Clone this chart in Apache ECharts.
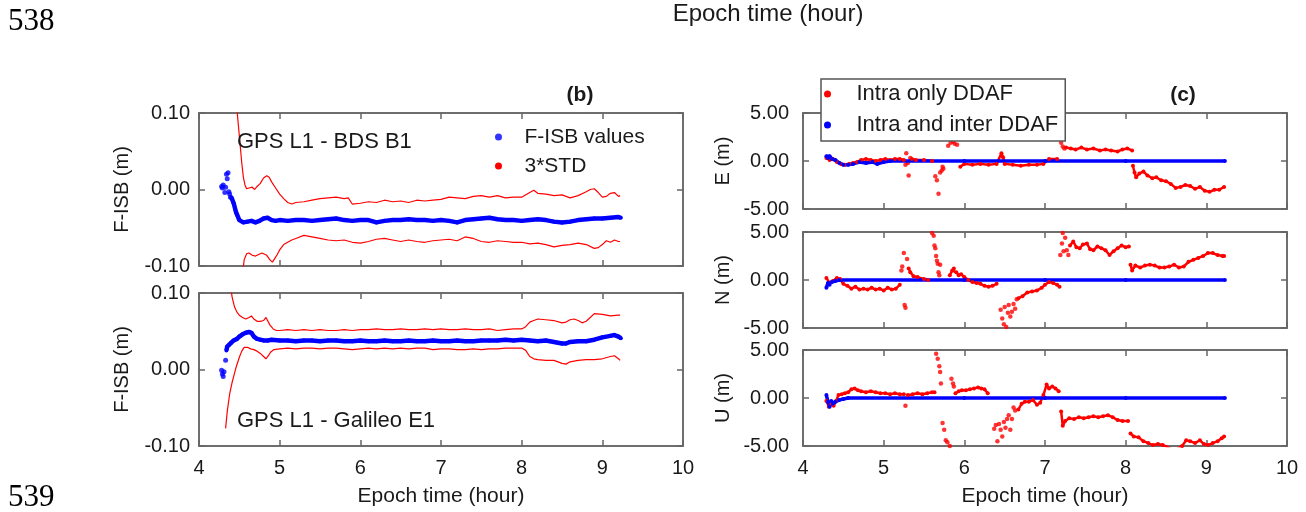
<!DOCTYPE html>
<html>
<head>
<meta charset="utf-8">
<script src="https://cdn.jsdelivr.net/npm/echarts@6/dist/echarts.min.js"></script>
<style>
html,body{margin:0;padding:0;background:#fff;}
#chart{width:1306px;height:512px;}
</style>
</head>
<body>
<div id="chart"></div>
<script>
// ---------- axis ticks ----------
const xTicks = [4, 5, 6, 7, 8, 9, 10];
const isbTicks = [-0.1, 0.0, 0.1];
const posTicks = [-5, 0, 5];

// ---------- (b) GPS L1 - BDS B1 ----------
const bdsIsbStart = [[4.28,0.004],[4.29,0.002],[4.30,0.006],[4.32,-0.004],[4.33,0.003],[4.34,0.020],[4.35,0.014],[4.36,0.022],[4.37,-0.003],[4.38,-0.006],[4.39,-0.010]];
const bdsIsb = [[4.40,-0.010],[4.43,-0.018],[4.46,-0.030],[4.50,-0.040],[4.55,-0.043],[4.60,-0.042],[4.65,-0.041],[4.70,-0.043],[4.75,-0.041],[4.80,-0.038],[4.85,-0.037],[4.90,-0.040],[4.95,-0.041],[5.0,-0.040],[5.1,-0.041],[5.2,-0.040],[5.3,-0.040],[5.4,-0.041],[5.5,-0.040],[5.6,-0.039],[5.7,-0.038],[5.8,-0.040],[5.9,-0.041],[6.0,-0.040],[6.1,-0.040],[6.2,-0.043],[6.3,-0.041],[6.4,-0.040],[6.5,-0.040],[6.6,-0.039],[6.7,-0.040],[6.8,-0.040],[6.9,-0.041],[7.0,-0.040],[7.1,-0.041],[7.2,-0.043],[7.3,-0.040],[7.4,-0.039],[7.5,-0.038],[7.6,-0.037],[7.7,-0.039],[7.8,-0.040],[7.9,-0.040],[8.0,-0.041],[8.1,-0.040],[8.2,-0.039],[8.3,-0.040],[8.4,-0.042],[8.5,-0.043],[8.6,-0.042],[8.7,-0.040],[8.8,-0.039],[8.9,-0.038],[9.0,-0.038],[9.1,-0.037],[9.2,-0.036],[9.23,-0.037]];
const bdsUpper = [[4.47,0.105],[4.50,0.070],[4.53,0.035],[4.55,0.016],[4.57,0.006],[4.59,0.001],[4.62,0.002],[4.66,0.003],[4.69,0.000],[4.72,0.004],[4.76,0.008],[4.80,0.015],[4.84,0.018],[4.87,0.016],[4.90,0.010],[4.95,0.002],[5.0,-0.006],[5.05,-0.012],[5.1,-0.017],[5.15,-0.019],[5.2,-0.017],[5.3,-0.016],[5.4,-0.014],[5.5,-0.012],[5.6,-0.011],[5.7,-0.010],[5.8,-0.012],[5.85,-0.011],[5.9,-0.019],[6.0,-0.018],[6.1,-0.016],[6.2,-0.017],[6.3,-0.014],[6.4,-0.016],[6.5,-0.015],[6.6,-0.017],[6.7,-0.014],[6.8,-0.015],[6.9,-0.014],[7.0,-0.013],[7.1,-0.010],[7.2,-0.011],[7.3,-0.012],[7.4,-0.009],[7.5,-0.008],[7.6,-0.010],[7.7,-0.008],[7.8,-0.011],[7.9,-0.010],[8.0,-0.010],[8.1,-0.004],[8.15,-0.001],[8.2,-0.005],[8.3,-0.006],[8.4,-0.008],[8.5,-0.007],[8.6,-0.011],[8.7,-0.008],[8.8,-0.003],[8.85,0.000],[8.9,0.001],[8.95,-0.004],[9.0,-0.010],[9.05,-0.009],[9.1,-0.005],[9.15,-0.004],[9.2,-0.009],[9.22,-0.008]];
const bdsLower = [[4.54,-0.110],[4.56,-0.092],[4.59,-0.084],[4.62,-0.083],[4.66,-0.086],[4.70,-0.087],[4.74,-0.085],[4.78,-0.083],[4.80,-0.081],[4.84,-0.086],[4.88,-0.092],[4.91,-0.095],[4.94,-0.090],[4.97,-0.085],[5.0,-0.079],[5.05,-0.072],[5.1,-0.069],[5.15,-0.066],[5.2,-0.064],[5.3,-0.060],[5.4,-0.062],[5.5,-0.064],[5.6,-0.066],[5.7,-0.067],[5.8,-0.066],[5.9,-0.069],[6.0,-0.070],[6.1,-0.068],[6.2,-0.065],[6.3,-0.064],[6.4,-0.066],[6.5,-0.068],[6.6,-0.066],[6.7,-0.068],[6.8,-0.069],[6.9,-0.067],[7.0,-0.066],[7.1,-0.065],[7.2,-0.067],[7.3,-0.062],[7.4,-0.064],[7.5,-0.068],[7.6,-0.069],[7.7,-0.067],[7.8,-0.068],[7.9,-0.069],[8.0,-0.069],[8.1,-0.071],[8.2,-0.070],[8.3,-0.072],[8.4,-0.075],[8.5,-0.073],[8.6,-0.072],[8.7,-0.070],[8.8,-0.072],[8.9,-0.077],[8.95,-0.076],[9.0,-0.072],[9.05,-0.067],[9.1,-0.069],[9.15,-0.066],[9.2,-0.068],[9.22,-0.068]];

// ---------- (b) GPS L1 - Galileo E1 ----------
const galIsbStart = [[4.28,-0.001],[4.29,-0.006],[4.30,-0.009],[4.31,-0.003],[4.33,0.012]];
const galIsb = [[4.34,0.025],[4.35,0.030],[4.37,0.032],[4.40,0.035],[4.43,0.038],[4.47,0.040],[4.50,0.043],[4.54,0.046],[4.58,0.048],[4.62,0.049],[4.65,0.048],[4.68,0.043],[4.72,0.040],[4.76,0.039],[4.8,0.038],[4.85,0.038],[4.9,0.039],[5.0,0.038],[5.1,0.038],[5.2,0.037],[5.3,0.038],[5.4,0.038],[5.5,0.037],[5.6,0.038],[5.7,0.038],[5.8,0.037],[5.9,0.037],[6.0,0.038],[6.1,0.037],[6.2,0.037],[6.3,0.038],[6.4,0.037],[6.5,0.037],[6.6,0.038],[6.7,0.037],[6.8,0.037],[6.9,0.038],[7.0,0.037],[7.1,0.037],[7.2,0.038],[7.3,0.037],[7.4,0.037],[7.5,0.038],[7.6,0.038],[7.7,0.038],[7.8,0.039],[7.9,0.038],[8.0,0.039],[8.1,0.038],[8.2,0.037],[8.3,0.038],[8.4,0.036],[8.5,0.034],[8.55,0.034],[8.6,0.036],[8.7,0.037],[8.8,0.037],[8.9,0.039],[9.0,0.042],[9.1,0.044],[9.15,0.045],[9.2,0.043],[9.23,0.041]];
const galUpper = [[4.39,0.110],[4.41,0.095],[4.44,0.082],[4.47,0.075],[4.50,0.071],[4.54,0.068],[4.58,0.066],[4.62,0.068],[4.65,0.070],[4.68,0.066],[4.72,0.063],[4.76,0.063],[4.80,0.064],[4.83,0.068],[4.85,0.066],[4.88,0.058],[4.92,0.053],[4.96,0.051],[5.0,0.051],[5.1,0.052],[5.2,0.051],[5.3,0.052],[5.4,0.051],[5.5,0.052],[5.6,0.051],[5.7,0.051],[5.8,0.052],[5.9,0.051],[6.0,0.052],[6.1,0.052],[6.2,0.053],[6.3,0.052],[6.4,0.052],[6.5,0.053],[6.6,0.052],[6.7,0.052],[6.8,0.053],[6.9,0.052],[7.0,0.053],[7.1,0.052],[7.2,0.052],[7.3,0.053],[7.4,0.052],[7.5,0.052],[7.6,0.053],[7.7,0.051],[7.8,0.052],[7.9,0.053],[8.0,0.053],[8.05,0.056],[8.1,0.062],[8.15,0.064],[8.2,0.066],[8.3,0.065],[8.4,0.064],[8.5,0.061],[8.55,0.062],[8.6,0.065],[8.65,0.066],[8.7,0.064],[8.75,0.061],[8.8,0.063],[8.85,0.068],[8.9,0.073],[9.0,0.072],[9.1,0.070],[9.2,0.071],[9.22,0.071]];
const galLower = [[4.33,-0.077],[4.35,-0.055],[4.38,-0.032],[4.41,-0.017],[4.44,-0.005],[4.46,0.003],[4.50,0.016],[4.53,0.024],[4.56,0.029],[4.60,0.029],[4.64,0.027],[4.68,0.026],[4.72,0.024],[4.76,0.021],[4.80,0.017],[4.83,0.014],[4.86,0.018],[4.89,0.023],[4.93,0.026],[5.0,0.027],[5.1,0.028],[5.2,0.027],[5.3,0.028],[5.4,0.028],[5.5,0.027],[5.6,0.028],[5.7,0.028],[5.8,0.027],[5.9,0.026],[6.0,0.027],[6.1,0.028],[6.2,0.027],[6.3,0.028],[6.4,0.027],[6.5,0.028],[6.6,0.027],[6.7,0.028],[6.8,0.028],[6.9,0.026],[7.0,0.027],[7.1,0.027],[7.2,0.026],[7.3,0.026],[7.4,0.027],[7.5,0.026],[7.6,0.027],[7.7,0.027],[7.8,0.028],[7.9,0.028],[8.0,0.028],[8.05,0.025],[8.1,0.017],[8.15,0.014],[8.2,0.013],[8.3,0.012],[8.4,0.012],[8.45,0.010],[8.5,0.008],[8.55,0.007],[8.6,0.010],[8.7,0.012],[8.8,0.013],[8.9,0.013],[9.0,0.014],[9.1,0.017],[9.15,0.018],[9.2,0.014],[9.22,0.012]];

// ---------- (c) E component (null = gap) ----------
const eIntraTrack = [[4.29,0.3],[4.33,0.1],[4.37,0.2],[4.42,-0.1],[4.47,-0.3],[4.52,-0.4],[4.57,-0.3],[4.62,-0.2],[4.67,-0.1],[4.72,0.1],[4.78,0.2],[4.84,0.1],[4.90,0.0],[4.96,0.1],[5.02,0.2],[5.08,0.1],[5.14,0.2],[5.20,0.2],[5.25,0.1],null,[5.35,0.2],[5.40,0.1],[5.50,0.1],[5.60,0.0],null,[5.95,-0.6],[6.0,-0.3],[6.1,-0.4],[6.2,-0.3],[6.3,-0.4],[6.4,-0.3],[6.46,0.8],[6.48,0.4],[6.5,-0.3],[6.6,-0.4],[6.7,-0.5],[6.8,-0.4],[6.9,-0.4],[6.98,-0.3],[7.05,0.2],[7.15,0.2],null,[7.26,1.4],[7.32,1.3],[7.38,1.2],[7.45,1.4],[7.52,1.2],[7.6,1.3],[7.68,1.1],[7.75,1.2],[7.82,1.1],[7.9,1.0],[7.96,1.2],[8.02,1.3],[8.08,1.1],null,[8.09,-0.5],[8.11,-1.2],[8.13,-1.7],[8.17,-1.3],[8.22,-1.1],[8.27,-1.5],[8.33,-1.8],[8.38,-1.7],[8.44,-2.0],[8.5,-2.1],[8.56,-2.4],[8.62,-2.8],[8.68,-2.7],[8.74,-2.5],[8.80,-2.6],[8.86,-2.9],[8.92,-2.7],[8.98,-3.1],[9.04,-3.2],[9.10,-3.0],[9.16,-3.0],[9.22,-2.7]];
const eIntraJumps = [[5.28,0.8],[5.27,-0.4],[5.30,-0.2],[5.31,-1.5],[5.33,0.3],[5.64,-1.6],[5.66,-2.0],[5.68,-3.4],[5.70,-1.2],[5.72,-1.0],[5.73,-0.6],[5.74,-0.8],[5.80,1.6],[5.83,1.9],[5.86,2.0],[5.88,1.8],[5.91,1.7],[7.20,1.9],[7.22,1.5],[7.24,1.3]];
const eInter = [[4.29,0.5],[4.31,0.3],[4.33,0.5],[4.36,0.2],[4.40,0.1],[4.45,-0.2],[4.50,-0.4],[4.56,-0.4],[4.62,-0.3],[4.70,-0.1],[4.78,-0.2],[4.86,-0.1],[4.92,-0.3],[5.0,-0.1],[5.08,0.0],[6.0,0.0],[7.0,0.0],[8.0,0.0],[9.23,0.0]];

// ---------- (c) N component ----------
const nIntraTrack = [[4.29,0.2],[4.33,-0.3],[4.37,-0.1],[4.42,0.2],[4.46,0.1],[4.5,-0.4],[4.55,-0.6],[4.6,-0.9],[4.65,-0.7],[4.7,-1.0],[4.75,-0.9],[4.8,-1.0],[4.85,-0.8],[4.9,-1.0],[4.95,-0.9],[5.0,-1.1],[5.05,-0.8],[5.1,-1.0],[5.15,-0.9],[5.2,-0.5],null,[5.31,1.2],[5.33,0.8],[5.37,0.4],[5.42,0.3],[5.5,0.1],[5.55,0.0],null,[5.82,0.5],[5.85,1.0],[5.87,1.2],[5.9,0.8],[5.93,0.5],[5.96,0.6],[6.0,0.3],[6.05,0.0],[6.1,-0.2],[6.15,-0.3],[6.2,-0.4],[6.25,-0.6],[6.3,-0.7],[6.35,-0.6],[6.4,-0.4],null,[6.67,-1.9],[6.72,-1.7],[6.78,-1.3],[6.84,-1.2],[6.9,-1.1],[6.96,-0.8],[7.0,-0.5],[7.05,-0.2],[7.1,-0.3],[7.15,-0.5],[7.18,-0.7],null,[7.31,3.6],[7.35,4.0],[7.39,3.4],[7.43,3.3],[7.47,3.7],[7.52,3.8],[7.56,3.2],[7.6,3.1],[7.65,3.5],[7.7,3.3],[7.75,3.1],[7.8,2.6],[7.85,3.0],[7.9,3.3],[7.95,3.6],[8.0,3.4],[8.04,3.5],null,[8.06,1.6],[8.08,1.0],[8.12,1.5],[8.18,1.3],[8.24,1.5],[8.3,1.6],[8.36,1.5],[8.42,1.3],[8.48,1.3],[8.54,1.4],[8.6,1.6],[8.66,1.3],[8.72,1.4],[8.78,1.9],[8.84,2.1],[8.9,2.3],[8.96,2.5],[9.02,2.8],[9.08,2.8],[9.14,2.6],[9.2,2.5],[9.22,2.5]];
const nIntraJumps = [[5.22,1.0],[5.23,1.4],[5.25,2.8],[5.26,-2.6],[5.27,-2.9],[5.29,2.2],[5.60,4.9],[5.62,4.6],[5.63,3.6],[5.64,3.3],[5.65,2.5],[5.66,2.0],[5.67,1.7],[5.68,0.8],[5.69,0.5],[5.70,1.6],[6.45,-3.1],[6.47,-4.0],[6.49,-4.6],[6.50,-2.8],[6.52,-4.9],[6.54,-3.4],[6.55,-2.6],[6.57,-3.8],[6.59,-3.3],[6.61,-2.5],[6.63,-3.0],[6.65,-2.0],[7.19,2.6],[7.21,3.8],[7.22,4.9],[7.23,3.0],[7.25,4.4],[7.27,3.1],[7.29,2.6]];
const nInter = [[4.29,-0.8],[4.31,-0.3],[4.33,-0.5],[4.36,-0.2],[4.40,-0.1],[4.45,0.0],[6.0,0.0],[7.0,0.0],[8.0,0.0],[9.23,0.0]];

// ---------- (c) U component ----------
const uIntraTrack = [[4.29,-0.3],[4.32,-0.9],[4.35,-0.6],[4.38,-0.8],[4.41,-0.3],[4.44,0.3],[4.48,0.4],[4.52,0.5],[4.56,0.6],[4.6,0.9],[4.64,1.0],[4.68,0.8],[4.72,0.7],[4.78,0.6],[4.84,0.7],[4.9,0.6],[4.96,0.5],[5.02,0.5],[5.08,0.4],[5.14,0.5],[5.2,0.4],[5.25,0.4],null,[5.3,0.3],[5.36,0.4],[5.42,0.5],[5.48,0.4],[5.54,0.5],[5.6,0.6],[5.63,0.6],null,[5.89,0.5],[5.93,0.7],[5.97,0.8],[6.02,0.8],[6.07,0.9],[6.12,1.0],[6.17,1.1],[6.21,1.0],[6.25,0.9],[6.29,0.5],null,[6.67,-1.2],[6.71,-0.6],[6.75,-0.4],[6.8,-0.4],[6.85,-0.2],[6.9,-0.7],[6.94,-0.5],[6.98,0.3],[7.02,1.4],[7.05,1.0],[7.09,1.2],[7.13,1.0],[7.17,0.7],null,[7.20,-1.4],[7.22,-2.9],[7.25,-2.4],[7.3,-2.1],[7.36,-2.2],[7.42,-2.0],[7.48,-2.1],[7.54,-2.0],[7.6,-1.9],[7.66,-2.0],[7.72,-1.9],[7.78,-1.8],[7.84,-2.0],[7.9,-2.3],[7.96,-2.4],[8.03,-2.4],null,[8.06,-3.7],[8.1,-4.0],[8.16,-4.1],[8.22,-4.5],[8.28,-4.7],[8.34,-4.9],[8.40,-4.8],[8.46,-4.9],[8.52,-5.1],[8.58,-5.4],[8.64,-5.3],[8.70,-5.0],[8.75,-4.4],[8.8,-4.5],[8.86,-4.7],[8.92,-4.4],[8.97,-4.8],[9.02,-4.9],[9.08,-4.7],[9.14,-4.5],[9.19,-4.2],[9.22,-4.0]];
const uIntraJumps = [[5.27,-0.8],[5.65,4.6],[5.67,4.1],[5.69,3.3],[5.70,2.7],[5.71,1.5],[5.73,-2.6],[5.75,-3.3],[5.77,-4.4],[5.79,-4.6],[5.82,-5.0],[5.84,2.0],[5.86,1.5],[5.87,1.2],[6.37,-3.2],[6.39,-2.8],[6.41,-4.5],[6.43,-2.7],[6.45,-3.3],[6.47,-4.0],[6.49,-2.5],[6.51,-3.1],[6.53,-2.2],[6.55,-1.8],[6.57,-3.3],[6.59,-2.2],[6.61,-1.0],[6.63,-1.3]];
const uInter = [[4.29,0.3],[4.31,-0.4],[4.33,-0.9],[4.35,-0.3],[4.37,-0.6],[4.40,-0.4],[4.45,-0.2],[4.5,-0.1],[4.56,0.0],[6.0,0.0],[7.0,0.0],[8.0,0.0],[9.23,0.0]];

// ---------- labels ----------
const NAME_ISB = 'F-ISB values', NAME_STD = '3*STD';
const NAME_INTRA = 'Intra only DDAF', NAME_INTER = 'Intra and inter DDAF';

// ---------- build ----------
const RED = '#ff0000', BLUE = '#0000ff', FRAME = '#666666', TXT = '#1a1a1a';
const FONT = '"Liberation Sans", Arial, sans-serif';
const gaps = arr => arr.map(d => d === null ? [null, null] : d);

const grids = [
  {left:199, top:113, width:484, height:153},
  {left:199, top:293, width:484, height:153},
  {left:803, top:113, width:484, height:96},
  {left:803, top:232, width:484, height:96},
  {left:803, top:350, width:484, height:96}
].map(g => Object.assign({show:true, borderColor:FRAME, borderWidth:1.5, backgroundColor:'#fff', containLabel:false}, g));

const xAxis = [], yAxis = [];
const fmt2 = v => (Math.abs(v) < 1e-9 ? 0 : v).toFixed(2);
const axLine = {show:true, onZero:false, lineStyle:{color:FRAME, width:1.5}};
const axTick = {show:true, inside:true, length:6, lineStyle:{color:FRAME, width:1.5}};
grids.forEach((g, i) => {
  const bottomRow = (i === 1 || i === 4);
  const base = {type:'value', gridIndex:i, min:xTicks[0], max:xTicks[xTicks.length-1], interval:1,
    splitLine:{show:false}, axisLine:axLine, axisTick:axTick};
  xAxis.push(Object.assign({}, base, {position:'bottom',
    axisLabel:{show:bottomRow, color:TXT, fontSize:20, fontFamily:FONT, margin:12},
    name: bottomRow ? 'Epoch time (hour)' : '', nameLocation:'middle', nameGap:40,
    nameTextStyle:{color:TXT, fontSize:21, fontFamily:FONT}}));
  xAxis.push(Object.assign({}, base, {position:'top', axisLabel:{show:false}}));
  const isB = i < 2;
  const ticks = isB ? isbTicks : posTicks;
  const names = ['F-ISB (m)', 'F-ISB (m)', 'E (m)', 'N (m)', 'U (m)'];
  const ybase = {type:'value', gridIndex:i, min:ticks[0], max:ticks[2], interval:ticks[2]-ticks[1],
    splitLine:{show:false}, axisLine:axLine, axisTick:axTick};
  yAxis.push(Object.assign({}, ybase, {position:'left',
    axisLabel:{color:TXT, fontSize:20, fontFamily:FONT, margin:isB ? 9 : 14, formatter:fmt2},
    name:names[i], nameLocation:'middle', nameRotate:90, nameGap:isB ? 67 : 70,
    nameTextStyle:{color:TXT, fontSize:20, fontFamily:FONT}}));
  yAxis.push(Object.assign({}, ybase, {position:'right', axisLabel:{show:false}}));
});

function lineS(name, gi, data, color, width, sym) {
  return {name, type:'line', xAxisIndex:gi*2, yAxisIndex:gi*2, data:gaps(data),
    showSymbol: sym > 0, symbol:'circle', symbolSize:sym, connectNulls:false,
    lineStyle:{color, width}, itemStyle:{color}, emphasis:{disabled:true}, silent:true,
    animation:false, clip:true};
}
function dotS(name, gi, data, color, size) {
  return {name, type:'scatter', xAxisIndex:gi*2, yAxisIndex:gi*2, data,
    symbol:'circle', symbolSize:size, itemStyle:{color}, emphasis:{disabled:true},
    silent:true, animation:false, clip:true};
}

const series = [
  lineS(NAME_STD, 0, bdsUpper, RED, 1.2, 0),
  lineS(NAME_STD, 0, bdsLower, RED, 1.2, 0),
  dotS(NAME_ISB, 0, bdsIsbStart, BLUE, 5),
  lineS(NAME_ISB, 0, bdsIsb, BLUE, 4.5, 4),
  lineS(NAME_STD, 1, galUpper, RED, 1.2, 0),
  lineS(NAME_STD, 1, galLower, RED, 1.2, 0),
  dotS(NAME_ISB, 1, galIsbStart, BLUE, 5),
  lineS(NAME_ISB, 1, galIsb, BLUE, 4.5, 4),

  lineS(NAME_INTRA, 2, eIntraTrack, RED, 2.5, 4),
  dotS(NAME_INTRA, 2, eIntraJumps, RED, 4.5),
  lineS(NAME_INTER, 2, eInter, BLUE, 3.5, 4),
  lineS(NAME_INTRA, 3, nIntraTrack, RED, 2.5, 4),
  dotS(NAME_INTRA, 3, nIntraJumps, RED, 4.5),
  lineS(NAME_INTER, 3, nInter, BLUE, 3.5, 4),
  lineS(NAME_INTRA, 4, uIntraTrack, RED, 2.5, 4),
  dotS(NAME_INTRA, 4, uIntraJumps, RED, 4.5),
  lineS(NAME_INTER, 4, uInter, BLUE, 3.5, 4)
];

const legendText = {color:TXT, fontSize:21, fontFamily:FONT, lineHeight:24};
const option = {
  backgroundColor:'#fff',
  animation:false,
  grid: grids,
  xAxis, yAxis, series,
  legend: [
    {data:[NAME_ISB, NAME_STD], left:495, top:125, orient:'vertical', icon:'circle',
     itemWidth:42, itemHeight:7, itemGap:5, padding:0, selectedMode:false, textStyle:legendText},
    {data:[NAME_INTRA, NAME_INTER], left:821, top:79, orient:'vertical', icon:'circle',
     itemWidth:48, itemHeight:7, itemGap:7, padding:[3,7,4,3], selectedMode:false,
     backgroundColor:'#fff', borderColor:'#555', borderWidth:1.5, borderRadius:0,
     textStyle:Object.assign({}, legendText, {fontSize:22})}
  ],
  graphic: [
    {type:'text', left:8, top:6, style:{text:'538', font:'31px "Liberation Serif", serif', fill:'#000'}},
    {type:'text', left:8, top:482, style:{text:'539', font:'31px "Liberation Serif", serif', fill:'#000'}},
    {type:'text', x:768, y:14, style:{text:'Epoch time (hour)', font:'24px "Liberation Sans", Arial', fill:TXT, align:'center', verticalAlign:'middle'}},
    {type:'text', x:580, y:95, style:{text:'(b)', font:'bold 21px "Liberation Sans", Arial', fill:TXT, align:'center', verticalAlign:'middle'}},
    {type:'text', x:1183, y:95, style:{text:'(c)', font:'bold 21px "Liberation Sans", Arial', fill:TXT, align:'center', verticalAlign:'middle'}},
    {type:'text', x:237, y:142, z:100, style:{text:'GPS L1 - BDS B1', font:'22px "Liberation Sans", Arial', fill:TXT, verticalAlign:'middle'}},
    {type:'text', x:237, y:421, z:100, style:{text:'GPS L1 - Galileo E1', font:'22px "Liberation Sans", Arial', fill:TXT, verticalAlign:'middle'}}
  ]
};

const chart = echarts.init(document.getElementById('chart'), null, {renderer:'canvas'});
chart.setOption(option);
</script>
</body>
</html>
